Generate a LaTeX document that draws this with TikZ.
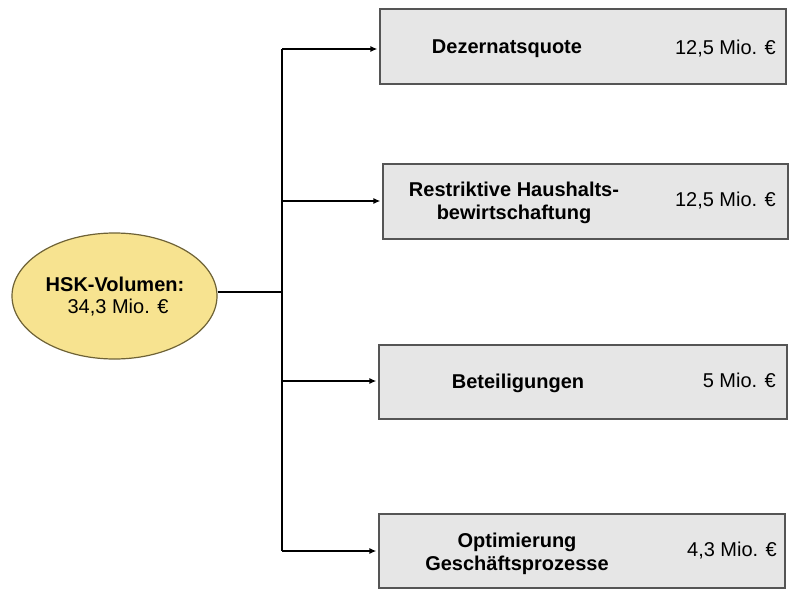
\documentclass[tikz,border=0pt]{standalone}
\usepackage{fontspec}
\setmainfont{Liberation Sans}
\usetikzlibrary{shapes.geometric,arrows.meta}
\definecolor{boxfill}{HTML}{E6E6E6}
\definecolor{boxline}{HTML}{555555}
\definecolor{ellfill}{HTML}{F7E390}
\definecolor{ellline}{HTML}{6E6236}
\tikzset{
  x=1pt, y=-1pt,
  itembox/.style={draw=boxline, fill=boxfill, line width=1.2pt, inner sep=0pt},
  lbl/.style={font=\fontsize{20}{23}\selectfont\bfseries, align=center, inner sep=0pt},
  val/.style={font=\fontsize{20}{23}\selectfont, anchor=east, inner sep=0pt},
  conn/.style={line width=1.5pt, draw=black},
  arr/.style={conn, -{Latex[length=7pt,width=6pt]}, shorten >=2pt},
}
\begin{document}
\begin{tikzpicture}
\useasboundingbox (0,0) rectangle (800,600);
% root ellipse
\node[ellipse, draw=ellline, fill=ellfill, line width=1.2pt, minimum width=205pt, minimum height=126pt, inner sep=0pt] (root) at (114.5,296) {};
\node[lbl] (rootlbl) at (115,284) {HSK-Volumen:};
\node[font=\fontsize{20}{23}\selectfont, inner sep=0pt] (rootval) at (118,308) {34,3 Mio. \texteuro};
% boxes
\node[itembox, minimum width=406pt, minimum height=75pt] (b1) at (583,46.5) {};
\node[itembox, minimum width=405pt, minimum height=75pt] (b2) at (585.5,201.5) {};
\node[itembox, minimum width=408pt, minimum height=74pt] (b3) at (583,382) {};
\node[itembox, minimum width=406pt, minimum height=74pt] (b4) at (582,551) {};
% labels
\node[lbl] (l1) at (507,49) {Dezernatsquote};
\node[lbl] (l2) at (514,203) {Restriktive Haushalts-\\bewirtschaftung};
\node[lbl] (l3) at (518,383) {Beteiligungen};
\node[lbl] (l4) at (517,554) {Optimierung\\Geschäftsprozesse};
\node[val] (v1) at (776,49) {12,5 Mio. \texteuro};
\node[val] (v2) at (776,201) {12,5 Mio. \texteuro};
\node[val] (v3) at (776,380) {5 Mio. \texteuro};
\node[val] (v4) at (777,551) {4,3 Mio. \texteuro};
% trunk
\coordinate (top) at (282,49);
\coordinate (bot) at (282,551);
\coordinate (mid) at (282,292);
\coordinate (t2) at (282,201);
\coordinate (t3) at (282,381);
\draw[conn] (root.east |- mid) -- (mid);
\draw[conn] (top) -- (bot);
\draw[arr] (top) -- (top -| b1.west);
\draw[arr] (t2) -- (t2 -| b2.west);
\draw[arr] (t3) -- (t3 -| b3.west);
\draw[arr] (bot) -- (bot -| b4.west);
\end{tikzpicture}
\end{document}
